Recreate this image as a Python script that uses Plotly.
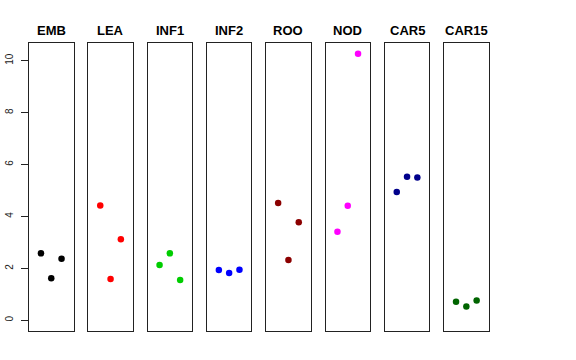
import plotly.graph_objects as go

groups = ["EMB", "LEA", "INF1", "INF2", "ROO", "NOD", "CAR5", "CAR15"]
values = {
    "EMB": [2.58, 1.62, 2.37],
    "LEA": [4.42, 1.59, 3.12],
    "INF1": [2.13, 2.58, 1.55],
    "INF2": [1.94, 1.82, 1.95],
    "ROO": [4.52, 2.32, 3.78],
    "NOD": [3.41, 4.41, 10.27],
    "CAR5": [4.94, 5.53, 5.50],
    "CAR15": [0.72, 0.53, 0.76],
}
colors = ["#000000", "#FF0000", "#00CD00", "#0000FF", "#8B0000", "#FF00FF", "#00008B", "#006400"]
replicates = [1, 2, 3]
y_ticks = [0, 2, 4, 6, 8, 10]

W, H = 576, 360
left0, pw, step = 29.0, 44.5, 59.3
top_px, bot_px = 43.0, 331.0
ylo, yhi = 0.0, max(max(v) for v in values.values())
pad = 0.04 * (yhi - ylo)
yrange = [ylo - pad, yhi + pad]
xlo, xhi = 0, 4
xpad = 0.04 * (xhi - xlo)
xrange = [xlo - xpad, xhi + xpad]

fig = go.Figure()
annotations = []
for i, g in enumerate(groups):
    n = "" if i == 0 else str(i + 1)
    fig.add_trace(go.Scatter(
        x=replicates, y=values[g], mode="markers",
        marker=dict(color=colors[i], size=6.5, line=dict(width=0)),
        xaxis="x" + n, yaxis="y" + n, showlegend=False, hoverinfo="skip"))
    l = left0 + i * step
    dom = [l / W, (l + pw) / W]
    fig.layout["xaxis" + n] = dict(
        domain=dom, range=xrange, showticklabels=False, ticks="",
        showgrid=False, zeroline=False, showline=True, mirror=True,
        linecolor="#222", linewidth=1, anchor="y" + n, fixedrange=True)
    yax = dict(
        domain=[(H - bot_px) / H, (H - top_px) / H], range=yrange,
        showgrid=False, zeroline=False, showline=True, mirror=True,
        linecolor="#222", linewidth=1, anchor="x" + n, fixedrange=True)
    if i == 0:
        yax.update(tickvals=y_ticks, ticktext=[str(t) for t in y_ticks],
                   ticks="outside", ticklen=7, tickcolor="#222", tickangle=-90,
                   ticklabelstandoff=4,
                   tickfont=dict(size=10, color="#222", family="Liberation Sans, Arial"))
    else:
        yax.update(showticklabels=False, ticks="")
    fig.layout["yaxis" + n] = yax
    annotations.append(dict(
        text="<b>" + g + "</b>", x=(l + pw / 2) / W, y=(H - 30) / H,
        xref="paper", yref="paper", showarrow=False,
        xanchor="center", yanchor="middle",
        font=dict(size=13, color="#000", family="Liberation Sans, Arial")))

fig.update_layout(
    width=W, height=H, margin=dict(l=0, r=0, t=0, b=0),
    paper_bgcolor="white", plot_bgcolor="white", annotations=annotations)
fig.write_html("out.html", config={"displayModeBar": False},
               post_script="document.body.style.margin='0';")
